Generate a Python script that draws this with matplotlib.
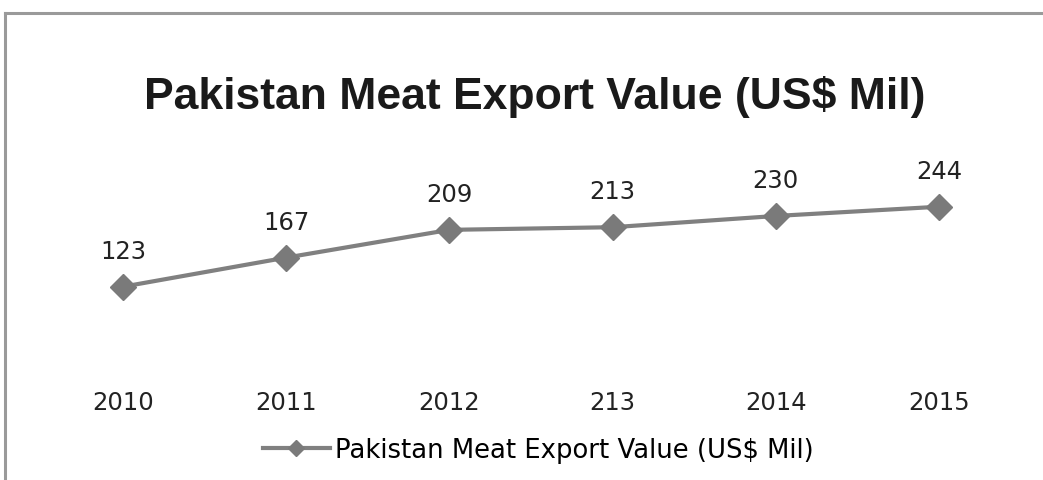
import os
import matplotlib.pyplot as plt
from matplotlib import font_manager as fm
from matplotlib.lines import Line2D

years = ["2010", "2011", "2012", "213", "2014", "2015"]
values = [123, 167, 209, 213, 230, 244]
series_name = "Pakistan Meat Export Value (US$ Mil)"

# Arial-like bold for the title
title_font = fm.FontProperties(family="Liberation Sans", weight="bold", size=32)
for f in fm.findSystemFonts():
    if os.path.basename(f) == "LiberationSans-Bold.ttf":
        title_font = fm.FontProperties(fname=f, size=32)
        break

fig = plt.figure(figsize=(10.43, 4.81), dpi=100)
fig.patch.set_facecolor("white")

# outer chart frame (only top and left visible in the crop)
fig.add_artist(Line2D([5/1043, 5/1043], [0, 1 - 14/481], color="#9a9a9a", lw=2.2, transform=fig.transFigure))
fig.add_artist(Line2D([5/1043, 1], [1 - 14/481, 1 - 14/481], color="#9a9a9a", lw=2.2, transform=fig.transFigure))

ax = fig.add_axes([41.4/1043, 1 - 369/481, 979.2/1043, 198.3/481])
x = list(range(len(years)))
ax.plot(x, values, color="#808080", lw=3, marker="D", markersize=13,
        markerfacecolor="#7a7a7a", markeredgecolor="#7a7a7a")
for xi, v in zip(x, values):
    ax.annotate(str(v), (xi, v), xytext=(0, 26), textcoords="offset points",
                ha="center", va="center", fontsize=17.5, color="#222222",
                family="DejaVu Sans")

ax.set_xlim(-0.5, len(years) - 0.5)
ax.set_ylim(0, 300)
ax.set_xticks(x)
ax.set_xticklabels(years, fontsize=17.5, color="#222222", family="DejaVu Sans")
ax.tick_params(axis="x", length=0, pad=16)
ax.set_yticks([])
for s in ax.spines.values():
    s.set_visible(False)

fig.text(535/1043, 1 - 97/481, "Pakistan Meat Export Value (US$ Mil)",
         ha="center", va="center", fontproperties=title_font, color="#1a1a1a")

handle = Line2D([], [], color="#808080", lw=3, marker="D", markersize=8,
                markerfacecolor="#7a7a7a", markeredgecolor="#7a7a7a")
fig.legend([handle], [series_name], loc="center", bbox_to_anchor=(538/1043, 1 - 451/481),
           frameon=False, handlelength=2.6, handletextpad=0.2,
           prop={"family": "DejaVu Sans", "size": 18.6})

fig.savefig("out.png", dpi=100, facecolor="white")
